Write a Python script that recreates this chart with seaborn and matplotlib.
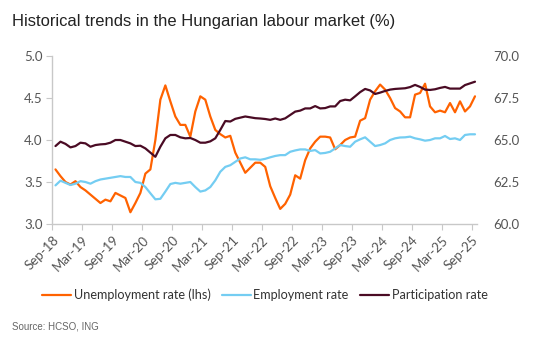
import numpy as np
import pandas as pd
import matplotlib
matplotlib.use("Agg")
import matplotlib.pyplot as plt
import seaborn as sns

# monthly data, Sep-18 .. Sep-25
unemployment = [3.65, 3.57, 3.50, 3.47, 3.51, 3.44, 3.40, 3.35, 3.30, 3.25,
                3.29, 3.27, 3.37, 3.34, 3.31, 3.14, 3.25, 3.37, 3.60, 3.65,
                4.00, 4.48, 4.65, 4.46, 4.28, 4.18, 4.18, 4.04, 4.34, 4.52,
                4.48, 4.28, 4.12, 4.07, 4.03, 4.05, 3.85, 3.73, 3.61, 3.67,
                3.73, 3.73, 3.68, 3.45, 3.31, 3.18, 3.24, 3.35, 3.58, 3.54,
                3.76, 3.90, 3.98, 4.04, 4.04, 4.03, 3.89, 3.94, 4.00, 4.03,
                4.04, 4.23, 4.26, 4.48, 4.58, 4.66, 4.60, 4.50, 4.38, 4.34,
                4.27, 4.27, 4.54, 4.56, 4.67, 4.40, 4.33, 4.35, 4.33, 4.44,
                4.33, 4.46, 4.34, 4.40, 4.52]

employment = [62.30, 62.58, 62.45, 62.32, 62.40, 62.55, 62.50, 62.40, 62.55, 62.65,
              62.70, 62.75, 62.80, 62.85, 62.80, 62.80, 62.50, 62.45, 62.20, 61.83,
              61.47, 61.50, 61.93, 62.38, 62.45, 62.40, 62.45, 62.50, 62.20, 61.93,
              62.00, 62.20, 62.60, 63.11, 63.40, 63.50, 63.70, 63.90, 63.97, 63.85,
              63.85, 63.82, 63.88, 63.97, 64.05, 64.10, 64.10, 64.30, 64.38, 64.44,
              64.44, 64.35, 64.40, 64.20, 64.23, 64.30, 64.50, 64.70, 64.64, 64.60,
              64.90, 65.04, 65.16, 64.90, 64.64, 64.70, 64.80, 65.00, 65.10, 65.15,
              65.16, 65.20, 65.10, 65.04, 64.96, 65.00, 65.10, 65.10, 65.24, 65.06,
              65.10, 65.00, 65.30, 65.34, 65.34]

participation = [64.64, 64.90, 64.77, 64.56, 64.64, 64.84, 64.80, 64.60, 64.70, 64.74,
                 64.76, 64.84, 65.00, 65.00, 64.90, 64.80, 64.64, 64.66, 64.50, 64.25,
                 64.00, 64.60, 65.10, 65.30, 65.30, 65.16, 65.10, 65.12, 65.00, 64.84,
                 64.84, 64.92, 65.10, 65.60, 66.13, 66.10, 66.26, 66.33, 66.40, 66.35,
                 66.30, 66.28, 66.25, 66.20, 66.28, 66.20, 66.29, 66.49, 66.69, 66.75,
                 66.88, 66.88, 67.02, 66.88, 66.90, 67.00, 67.00, 67.32, 67.40, 67.36,
                 67.60, 67.85, 68.04, 67.95, 67.74, 67.82, 67.92, 68.00, 68.04, 68.06,
                 68.08, 68.15, 68.28, 68.16, 68.00, 67.98, 68.02, 68.10, 68.16, 68.06,
                 68.06, 68.06, 68.27, 68.37, 68.47]

tick_labels = ["Sep-18", "Mar-19", "Sep-19", "Mar-20", "Sep-20", "Mar-21", "Sep-21",
               "Mar-22", "Sep-22", "Mar-23", "Sep-23", "Mar-24", "Sep-24", "Mar-25",
               "Sep-25"]

months = np.arange(len(unemployment))

sns.set_style("white")
plt.rcParams['font.family'] = ['Lato', 'DejaVu Sans']

fig = plt.figure(figsize=(5.35, 3.54), dpi=100)
ax = fig.add_axes([0.0981, 0.3672, 0.7944, 0.4746])
ax2 = ax.twinx()

orange = "#FF6200"
blue = "#74CDF2"
maroon = "#4A0B24"

sns.lineplot(x=months, y=unemployment, ax=ax, color=orange, linewidth=1.6,
             label="Unemployment rate (lhs)", legend=False)
sns.lineplot(x=months, y=employment, ax=ax2, color=blue, linewidth=1.6,
             label="Employment rate", legend=False)
sns.lineplot(x=months, y=participation, ax=ax2, color=maroon, linewidth=1.6,
             label="Participation rate", legend=False)

ax.set_xlim(-0.5, 84.5)
ax.set_ylim(3.0, 5.0)
ax2.set_ylim(60.0, 70.0)
ax.set_yticks([3.0, 3.5, 4.0, 4.5, 5.0])
ax.set_yticklabels(["3.0", "3.5", "4.0", "4.5", "5.0"])
ax2.set_yticks([60.0, 62.5, 65.0, 67.5, 70.0])
ax2.set_yticklabels(["60.0", "62.5", "65.0", "67.5", "70.0"])
ax.set_xticks(np.arange(0, 85, 6) - 0.6)
ax.set_xticklabels(tick_labels, rotation=45, ha="right", rotation_mode="anchor")
ax.set_xlabel("")
ax.set_ylabel("")
ax2.set_ylabel("")

for a in (ax, ax2):
    for s in a.spines.values():
        s.set_visible(False)
ax.spines['left'].set_visible(True)
ax.spines['bottom'].set_visible(True)
ax.spines['left'].set_color("#C8C8C8")
ax.spines['bottom'].set_color("#C8C8C8")
ax.spines['left'].set_linewidth(1.0)
ax.spines['bottom'].set_linewidth(1.0)

ax.tick_params(axis='x', length=4, width=0.8, color="#C8C8C8", labelsize=9.5,
               labelcolor="#555555", pad=3, direction='out', bottom=True)
ax.tick_params(axis='y', length=4, width=0.8, color="#C8C8C8", labelsize=9.5,
               labelcolor="#555555", pad=3, direction='out', left=True)
ax2.tick_params(axis='y', length=0, labelsize=9.5, labelcolor="#555555", pad=11)
ax.grid(False)
ax2.grid(False)

fig.text(0.022, 0.938, "Historical trends in the Hungarian labour market (%)",
         fontsize=11.9, color="#222222", family=['Liberation Sans', 'DejaVu Sans'],
         va='center', ha='left')
fig.text(0.022, 0.079, "Source: HCSO, ING", fontsize=7, color="#666666",
         family=['Liberation Sans', 'DejaVu Sans'], va='center', ha='left')

handles = ax.get_lines()[:1] + ax2.get_lines()[:2]
labels = ["Unemployment rate (lhs)", "Employment rate", "Participation rate"]
fig.legend(handles, labels, loc='center', bbox_to_anchor=(0.495, 0.167), ncol=3,
           frameon=False, fontsize=9.1, handlelength=2.3, handletextpad=0.2,
           columnspacing=0.9, labelcolor="#333333")

fig.savefig("out.png", dpi=100)
